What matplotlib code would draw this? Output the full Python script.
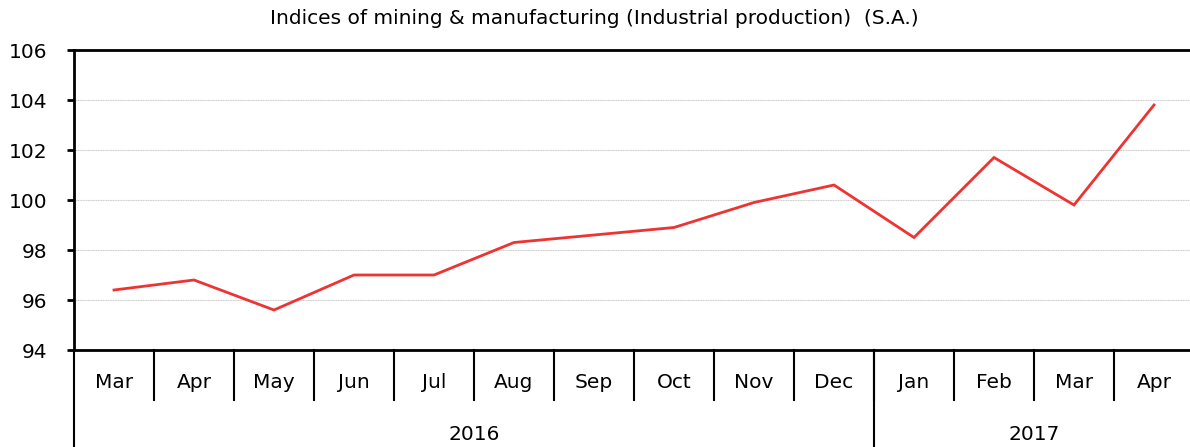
import numpy as np
import matplotlib
matplotlib.use("Agg")
import matplotlib.pyplot as plt
import matplotlib.transforms as mtransforms

# Data
months = ["Mar", "Apr", "May", "Jun", "Jul", "Aug", "Sep", "Oct", "Nov", "Dec",
          "Jan", "Feb", "Mar", "Apr"]
values = [96.4, 96.8, 95.6, 97.0, 97.0, 98.3, 98.6, 98.9, 99.9, 100.6,
          98.5, 101.7, 99.8, 103.8]
years = ["2016", "2017"]
year_counts = [10, 4]
yticks = [94, 96, 98, 100, 102, 104, 106]

title = "Indices of mining & manufacturing (Industrial production)  (S.A.)"

plt.rcParams['font.family'] = ['DejaVu Sans']

fig = plt.figure(figsize=(11.9, 4.47), dpi=100)
W, H = 1190, 447
ax = fig.add_axes([74 / W, (H - 350) / H, 1120 / W, 300 / H])

x = np.arange(len(months))
ax.plot(x, values, color='#ee3333', lw=2, solid_joinstyle='miter')

ax.set_xlim(-0.5, len(months) - 0.5)
ax.set_ylim(94, 106)
ax.set_yticks(yticks)
ax.set_yticklabels([str(v) for v in yticks], fontsize=14.5)
ax.tick_params(axis='y', length=5, width=2, pad=14, color='black')
ax.set_xticks([])

ax.grid(axis='y', color='#cccccc', lw=0.8, ls=(0, (1, 0.5)))
ax.set_axisbelow(True)

for s in ['left', 'bottom', 'top']:
    ax.spines[s].set_linewidth(2)
    ax.spines[s].set_color('black')
ax.spines['right'].set_visible(False)

trans = mtransforms.blended_transform_factory(ax.transData, ax.transAxes)
y_month = -50 / 300
y_year = -97 / 300

# month labels and separators
for i, m in enumerate(months):
    ax.text(i, -33 / 300, m, transform=trans, ha='center', va='center', fontsize=14.5)
    if i > 0:
        ax.plot([i - 0.5, i - 0.5], [0, y_month], transform=trans,
                color='black', lw=1.5, clip_on=False)

# year labels and separators
start = 0
for yr, n in zip(years, year_counts):
    ax.plot([start - 0.5, start - 0.5], [0, y_year], transform=trans,
            color='black', lw=1.5, clip_on=False)
    ax.text(start + (n - 1) / 2, -84 / 300, yr, transform=trans,
            ha='center', va='center', fontsize=14.5)
    start += n

fig.text(594 / W, 1 - 19 / H, title, ha='center', va='center', fontsize=14.5)

fig.savefig("out.png", dpi=100)
